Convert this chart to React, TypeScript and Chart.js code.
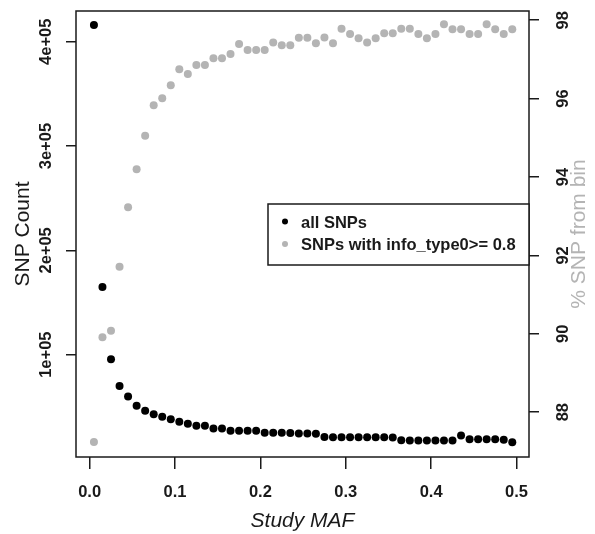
import React, { useEffect, useRef } from 'react';
import { Chart, registerables } from 'chart.js';

Chart.register(...registerables);

// ---- data ----
const mafBins = [
  0.005, 0.015, 0.025, 0.035, 0.045, 0.055, 0.065, 0.075, 0.085, 0.095,
  0.105, 0.115, 0.125, 0.135, 0.145, 0.155, 0.165, 0.175, 0.185, 0.195,
  0.205, 0.215, 0.225, 0.235, 0.245, 0.255, 0.265, 0.275, 0.285, 0.295,
  0.305, 0.315, 0.325, 0.335, 0.345, 0.355, 0.365, 0.375, 0.385, 0.395,
  0.405, 0.415, 0.425, 0.435, 0.445, 0.455, 0.465, 0.475, 0.485, 0.495,
];

const allSnpCounts = [
  416000, 165000, 95600, 70000, 60000, 51100, 46300, 42800, 40500, 38000,
  35700, 33800, 31800, 31800, 29300, 29300, 27000, 27000, 27000, 27000,
  25200, 25200, 25200, 24800, 24500, 24500, 24300, 21000, 20800, 20800,
  20800, 20800, 20800, 20800, 20800, 20600, 18000, 17800, 17800, 17800,
  17800, 17800, 17800, 22500, 18800, 18800, 18800, 18800, 18500, 16000,
];

const pctHighInfo = [
  87.24, 89.91, 90.08, 91.71, 93.23, 94.2, 95.05, 95.83, 96.01, 96.34,
  96.75, 96.63, 96.86, 96.86, 97.03, 97.03, 97.14, 97.39, 97.24, 97.24,
  97.24, 97.43, 97.36, 97.36, 97.55, 97.55, 97.41, 97.56, 97.41, 97.78,
  97.65, 97.54, 97.43, 97.54, 97.67, 97.67, 97.78, 97.78, 97.65, 97.54,
  97.65, 97.9, 97.77, 97.77, 97.65, 97.65, 97.9, 97.77, 97.65, 97.77,
];

const xTicks = [0, 0.1, 0.2, 0.3, 0.4, 0.5];
const xTickLabels = ['0.0', '0.1', '0.2', '0.3', '0.4', '0.5'];
const countTicks = [100000, 200000, 300000, 400000];
const countTickLabels = ['1e+05', '2e+05', '3e+05', '4e+05'];
const pctTicks = [88, 90, 92, 94, 96, 98];
const pctTickLabels = ['88', '90', '92', '94', '96', '98'];
const seriesNames = ['all SNPs', 'SNPs with info_type0>= 0.8'];
const xTitle = 'Study MAF';
const leftTitle = 'SNP Count';
const rightTitle = '% SNP from bin';

// ---- styles ----
const FONT = "'Liberation Sans', Arial, Helvetica, sans-serif";
const BLACK = '#000000';
const GREY = '#b4b4b4';
const AXIS = '#1a1a1a';
const TEXT = '#1a1a1a';
const TICK_FONT = `bold 16.5px ${FONT}`;
const TITLE_FONT = `21px ${FONT}`;

const gridOpts = {
  display: true,
  drawOnChartArea: false,
  drawTicks: true,
  tickLength: 10,
  tickColor: AXIS,
  color: AXIS,
  lineWidth: 1.5,
};

const decorPlugin = {
  id: 'rDecor',
  afterDraw(chart: any) {
    const ctx = chart.ctx as CanvasRenderingContext2D;
    const ca = chart.chartArea;
    const sx = chart.scales.x;
    const sy = chart.scales.y;
    const sy2 = chart.scales.y2;
    ctx.save();

    // box
    ctx.strokeStyle = AXIS;
    ctx.lineWidth = 1.5;
    ctx.strokeRect(ca.left, ca.top, ca.right - ca.left, ca.bottom - ca.top);

    // x tick labels
    ctx.fillStyle = TEXT;
    ctx.font = TICK_FONT;
    ctx.textAlign = 'center';
    ctx.textBaseline = 'alphabetic';
    xTicks.forEach((v, i) => {
      ctx.fillText(xTickLabels[i], sx.getPixelForValue(v), ca.bottom + 39.5);
    });

    // x title
    ctx.font = `italic ${TITLE_FONT}`;
    ctx.fillText(xTitle, (ca.left + ca.right) / 2, ca.bottom + 70);

    const rot = (text: string, x: number, y: number, color: string, font: string) => {
      ctx.save();
      ctx.translate(x, y);
      ctx.rotate(-Math.PI / 2);
      ctx.fillStyle = color;
      ctx.font = font;
      ctx.textAlign = 'center';
      ctx.textBaseline = 'alphabetic';
      ctx.fillText(text, 0, 0);
      ctx.restore();
    };
    countTicks.forEach((v, i) => {
      rot(countTickLabels[i], ca.left - 25, sy.getPixelForValue(v), TEXT, TICK_FONT);
    });
    pctTicks.forEach((v, i) => {
      rot(pctTickLabels[i], ca.right + 39, sy2.getPixelForValue(v), TEXT, TICK_FONT);
    });
    const midY = (ca.top + ca.bottom) / 2;
    rot(leftTitle, ca.left - 47, midY, TEXT, TITLE_FONT);
    rot(rightTitle, ca.right + 56, midY, GREY, TITLE_FONT);

    // legend
    const lw = 261;
    const lh = 61;
    const lx = ca.right - lw;
    const ly = ca.top + 193;
    ctx.fillStyle = '#ffffff';
    ctx.fillRect(lx, ly, lw, lh);
    ctx.strokeStyle = AXIS;
    ctx.lineWidth = 1.5;
    ctx.strokeRect(lx, ly, lw, lh);
    const colors = [BLACK, GREY];
    seriesNames.forEach((name, i) => {
      const cy = ly + 17.5 + i * 22.5;
      ctx.beginPath();
      ctx.fillStyle = colors[i];
      ctx.arc(lx + 17, cy, 3, 0, Math.PI * 2);
      ctx.fill();
      ctx.fillStyle = TEXT;
      ctx.font = TICK_FONT;
      ctx.textAlign = 'left';
      ctx.textBaseline = 'alphabetic';
      ctx.fillText(name, lx + 33, cy + 6);
    });

    ctx.restore();
  },
};

export default function App() {
  const canvasRef = useRef<HTMLCanvasElement | null>(null);

  useEffect(() => {
    const canvas = canvasRef.current;
    if (!canvas) return;
    const chart = new Chart(canvas, {
      type: 'scatter',
      data: {
        datasets: [
          {
            label: seriesNames[1],
            data: mafBins.map((x, i) => ({ x, y: pctHighInfo[i] })),
            yAxisID: 'y2',
            backgroundColor: GREY,
            borderWidth: 0,
            pointRadius: 4,
          },
          {
            label: seriesNames[0],
            data: mafBins.map((x, i) => ({ x, y: allSnpCounts[i] })),
            yAxisID: 'y',
            backgroundColor: BLACK,
            borderWidth: 0,
            pointRadius: 4,
          },
        ],
      },
      options: {
        responsive: false,
        animation: false,
        layout: { padding: { top: 11, left: 0, right: 0, bottom: 0 } },
        plugins: { legend: { display: false }, tooltip: { enabled: false } },
        scales: {
          x: {
            type: 'linear',
            position: 'bottom',
            min: -0.016,
            max: 0.5146,
            afterBuildTicks: (s: any) => {
              s.ticks = xTicks.map((v) => ({ value: v }));
            },
            afterFit: (s: any) => {
              s.height = 77;
            },
            ticks: { display: false },
            grid: { ...gridOpts, tickLength: 12 },
            border: { display: false },
          },
          y: {
            type: 'linear',
            position: 'left',
            min: 1900,
            max: 429500,
            afterBuildTicks: (s: any) => {
              s.ticks = countTicks.map((v) => ({ value: v }));
            },
            afterFit: (s: any) => {
              s.width = 76;
            },
            ticks: { display: false },
            grid: gridOpts,
            border: { display: false },
          },
          y2: {
            type: 'linear',
            position: 'right',
            min: 86.857,
            max: 98.235,
            afterBuildTicks: (s: any) => {
              s.ticks = pctTicks.map((v) => ({ value: v }));
            },
            afterFit: (s: any) => {
              s.width = 66;
            },
            ticks: { display: false },
            grid: gridOpts,
            border: { display: false },
          },
        },
      },
      plugins: [decorPlugin],
    });
    return () => chart.destroy();
  }, []);

  return (
    <div style={{ position: 'fixed', left: 0, top: 0, width: 595, height: 534, background: '#fff' }}>
      <canvas ref={canvasRef} width={595} height={534} style={{ display: 'block' }} />
    </div>
  );
}
